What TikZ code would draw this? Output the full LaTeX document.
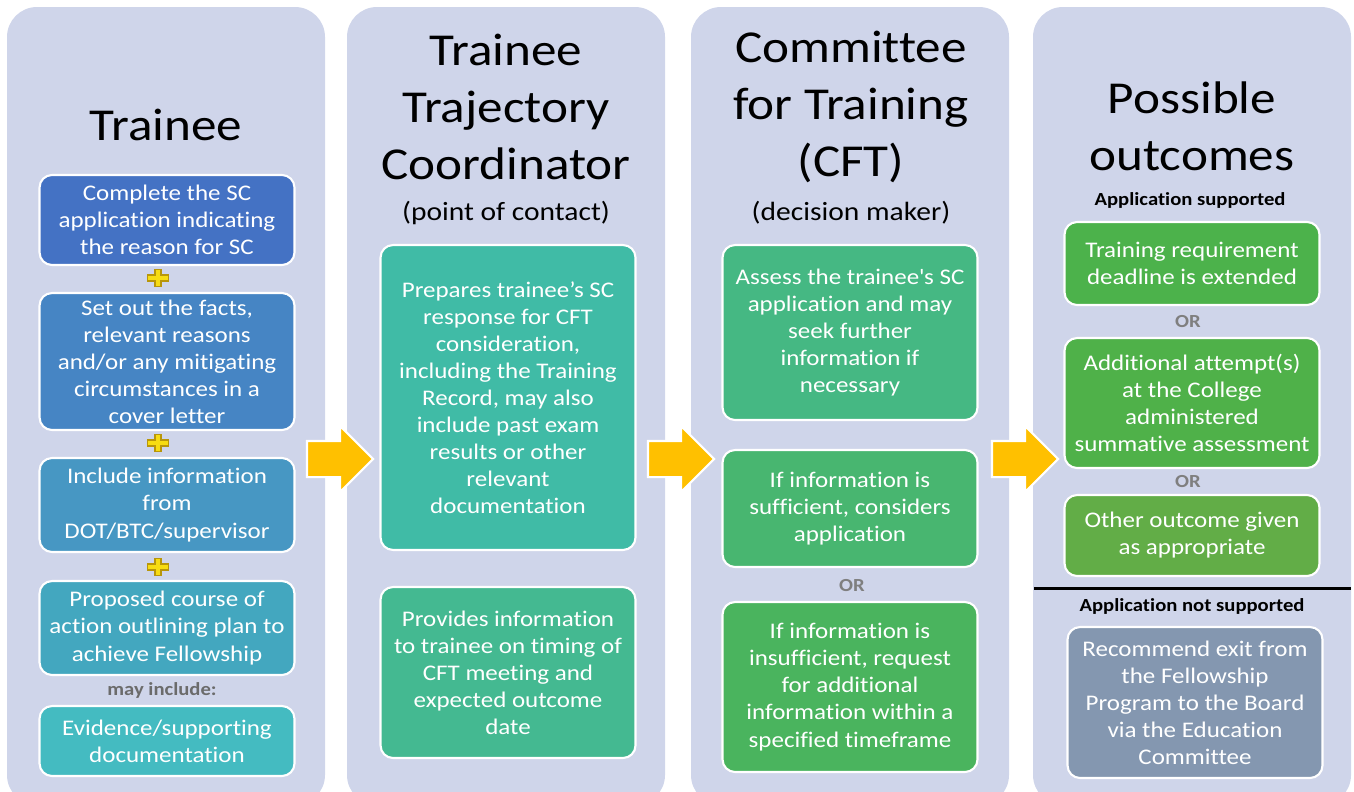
\documentclass[tikz,border=0pt]{standalone}
\usepackage{fontspec}
\setmainfont{Carlito}[FakeStretch=1.12, Ligatures={TeX,NoCommon}]
\usepackage{tikz}
\usetikzlibrary{shapes.arrows,positioning}

\definecolor{panelbg}{HTML}{CFD5EA}
\definecolor{arrowfill}{HTML}{FFC000}
\definecolor{plusfill}{HTML}{F7DC12}
\definecolor{plusedge}{HTML}{B8960A}
\definecolor{orgray}{HTML}{7F7F7F}
\definecolor{bA}{HTML}{4472C4}
\definecolor{bB}{HTML}{4685C4}
\definecolor{bC}{HTML}{4797C3}
\definecolor{bD}{HTML}{43A7BF}
\definecolor{bE}{HTML}{44BBC1}
\definecolor{cA}{HTML}{40BBA6}
\definecolor{cB}{HTML}{44B991}
\definecolor{dA}{HTML}{45B883}
\definecolor{dB}{HTML}{48B670}
\definecolor{dC}{HTML}{4AB45E}
\definecolor{eA}{HTML}{4CB24B}
\definecolor{eB}{HTML}{4FB149}
\definecolor{eC}{HTML}{62AD47}
\definecolor{eD}{HTML}{8497B0}

\newcommand{\bodysize}{\fontsize{12.7}{15.4}\selectfont}
\newcommand{\headsize}{\fontsize{26}{32.3}\selectfont}

\tikzset{
  panel/.style={fill=panelbg, rounded corners=0.6cm},
  stepbox/.style={draw=white, line width=1.2pt, rounded corners=0.25cm,
    text=white, font=\bodysize, align=center, minimum width=5.1cm, inner sep=2pt},
  heading/.style={font=\headsize, align=center},
  subheading/.style={font=\fontsize{15}{18}\selectfont},
  ortext/.style={font=\fontsize{10.5}{12}\selectfont\bfseries, text=orgray},
  caption/.style={font=\fontsize{10.5}{12}\selectfont\bfseries},
  blockarrow/.style={single arrow, fill=arrowfill, draw=white, line width=1.2pt,
    inner sep=0.34cm, single arrow head extend=0.3cm, minimum height=1.32cm},
  addsign/.pic={
    \filldraw[fill=plusfill, draw=plusedge, line width=0.7pt]
      (-3,-8.5) -- (3,-8.5) -- (3,-3) -- (10.5,-3) -- (10.5,3) -- (3,3) -- (3,8.5)
      -- (-3,8.5) -- (-3,3) -- (-10.5,3) -- (-10.5,-3) -- (-3,-3) -- cycle;
  }
}

\begin{document}
\begin{tikzpicture}[x=0.02cm,y=-0.02cm]
\useasboundingbox (0,0) rectangle (1354,791);

\fill[panel] (7,7) rectangle (325,805);
\fill[panel] (347,7) rectangle (665,805);
\fill[panel] (691,7) rectangle (1009,805);
\fill[panel] (1033,7) rectangle (1351,805);

% trainee
\node[heading] (trainee) at (166,125) {Trainee};
\node[stepbox, fill=bA, minimum height=1.8cm] (apply) at (167,220)
  {Complete the SC\\application indicating\\the reason for SC};
\node[stepbox, fill=bB, minimum height=2.74cm] (facts) at (167,361.5)
  {Set out the facts,\\relevant reasons\\and/or any mitigating\\circumstances in a\\cover letter};
\node[stepbox, fill=bC, minimum height=1.88cm] (info) at (167,505)
  {Include information\\from\\DOT/BTC/supervisor};
\node[stepbox, fill=bD, minimum height=1.88cm] (plan) at (167,628)
  {Proposed course of\\action outlining plan to\\achieve Fellowship};
\node[ortext, text=black!58] (mayinc) at (162,690) {may include:};
\node[stepbox, fill=bE, minimum height=1.4cm] (evidence) at (167,741)
  {Evidence/supporting\\documentation};
\pic at (158,278) {addsign};
\pic at (158,443) {addsign};
\pic at (158,567) {addsign};

% coordinator
\node[heading] (coord) at (506,107) {Trainee\\Trajectory\\Coordinator};
\node[subheading] (contact) at (506,213) {(point of contact)};
\node[stepbox, fill=cA, minimum height=6.1cm] (prepare) at (508,397.5)
  {Prepares trainee’s SC\\response for CFT\\consideration,\\including the Training\\Record, may also\\include past exam\\results or other\\relevant\\documentation};
\node[stepbox, fill=cB, minimum height=3.42cm] (timing) at (508,672.5)
  {Provides information\\to trainee on timing of\\CFT meeting and\\expected outcome\\date};

% committee
\node[heading] (cft) at (851,107) {Committee\\for Training\\(CFT)};
\node[subheading] (decision) at (851,213) {(decision maker)};
\node[stepbox, fill=dA, minimum height=3.5cm] (assess) at (850,332.5)
  {Assess the trainee\textquotesingle s SC\\application and may\\seek further\\information if\\necessary};
\node[stepbox, fill=dB, minimum height=2.34cm] (enough) at (850,508.5)
  {If information is\\sufficient, considers\\application};
\node[ortext] (orA) at (852,586) {OR};
\node[stepbox, fill=dC, minimum height=3.4cm] (request) at (850,687)
  {If information is\\insufficient, request\\for additional\\information within a\\specified timeframe};

% outcomes
\node[heading] (outcomes) at (1192,126) {Possible\\outcomes};
\node[caption] (yes) at (1190,200) {Application supported};
\node[stepbox, fill=eA, minimum height=1.66cm] (extend) at (1192,263.5)
  {Training requirement\\deadline is extended};
\node[ortext] (orB) at (1188,322) {OR};
\node[stepbox, fill=eB, minimum height=2.6cm] (attempt) at (1192,403)
  {Additional attempt(s)\\at the College\\administered\\summative assessment};
\node[ortext] (orC) at (1188,482) {OR};
\node[stepbox, fill=eC, minimum height=1.62cm] (other) at (1192,535.5)
  {Other outcome given\\as appropriate};
\draw[line width=1.7pt] (1034,588) -- (1351,588);
\node[caption] (no) at (1192,606) {Application not supported};
\node[stepbox, fill=eD, minimum height=3.02cm] (exit) at (1195,702.5)
  {Recommend exit from\\the Fellowship\\Program to the Board\\via the Education\\Committee};

% arrows between columns
\node[blockarrow] (go1) at (331,459) {};
\node[blockarrow] (go2) at (672,459) {};
\node[blockarrow] (go3) at (1016,459) {};
\end{tikzpicture}
\end{document}
